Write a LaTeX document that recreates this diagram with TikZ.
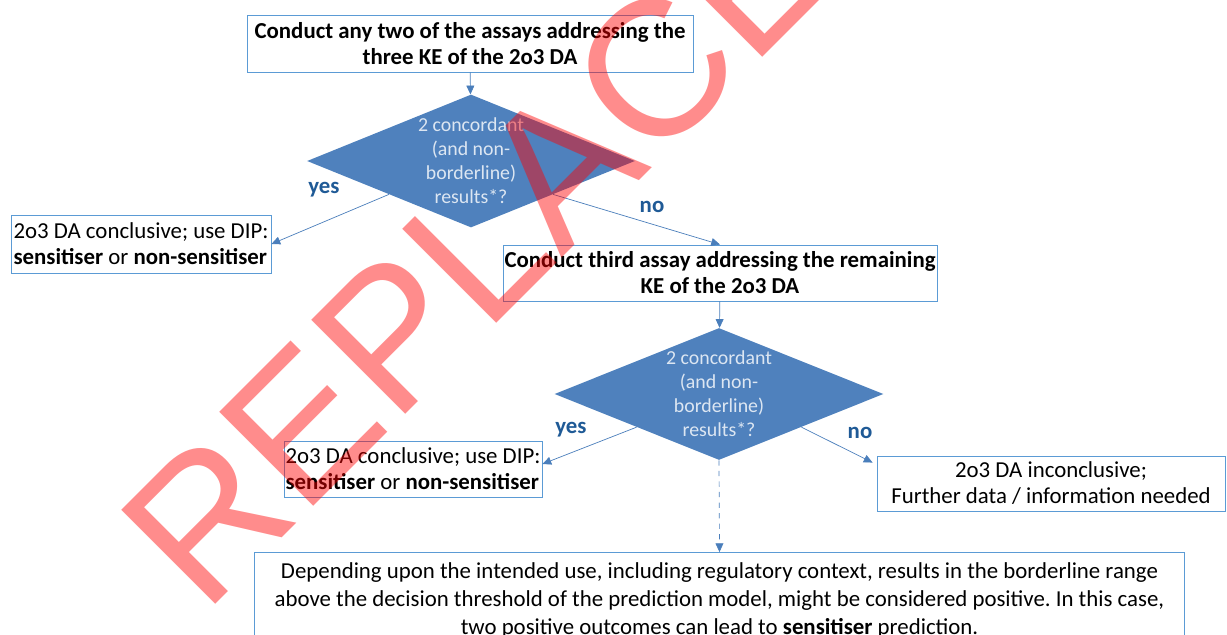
\documentclass[tikz,border=0pt]{standalone}
\usepackage{fontspec}
\setmainfont{Carlito}
\newfontfamily\markfont{Liberation Sans}
\usetikzlibrary{shapes.geometric}
\usetikzlibrary{arrows.meta}
\frenchspacing

\definecolor{boxline}{RGB}{91,155,213}
\definecolor{flowline}{RGB}{74,126,187}
\definecolor{dfill}{RGB}{79,129,189}
\definecolor{dtextc}{RGB}{220,230,242}
\definecolor{ynblue}{RGB}{31,90,150}

\tikzset{
    box/.style={draw=boxline, line width=0.5pt, inner sep=0pt, align=center,
        font=\fontsize{13}{14.8}\selectfont},
    decision/.style={diamond, fill=dfill, inner sep=0pt},
    dtext/.style={text=dtextc, align=center, inner sep=0pt,
        font=\fontsize{11.3}{13.7}\selectfont},
    yn/.style={text=ynblue, inner sep=0pt, font=\fontsize{13}{14}\selectfont\bfseries},
    flow/.style={draw=flowline, line width=0.4pt, -{Triangle[length=5pt,width=4.5pt]}}
}

\begin{document}
\begin{tikzpicture}[x=0.02cm, y=-0.02cm]

            %\draw [help lines] (0,0) grid (1227,635);
            \useasboundingbox (0,0) rectangle (1227,635);

            \path   (470,43.5) node (any) [box, minimum width=8.92cm, minimum height=1.14cm]
                        {\bfseries Conduct any two of the assays addressing the\\ \bfseries three KE of the 2o3 DA}
                    (471,161) node (qa) [decision, minimum width=6.56cm, minimum height=2.66cm] {}
                    (471,161) node (qat) [dtext] {2 concordant\\(and non-\\borderline)\\results*?}
                    (141,244) node (conca) [box, align=left, minimum width=5.2cm, minimum height=1.16cm]
                        {2o3 DA conclusive; use DIP:\\ \textbf{sensitiser} or \textbf{non-sensitiser}}
                    (720,273) node (third) [box, minimum width=8.68cm, minimum height=1.12cm]
                        {\bfseries Conduct third assay addressing the remaining\\ \bfseries KE of the 2o3 DA}
                    (719,394) node (qb) [decision, minimum width=6.58cm, minimum height=2.64cm] {}
                    (719,394) node (qbt) [dtext] {2 concordant\\(and non-\\borderline)\\results*?}
                    (413,469) node (concb) [box, align=left, minimum width=5.16cm, minimum height=1.12cm]
                        {2o3 DA conclusive; use DIP:\\ \textbf{sensitiser} or \textbf{non-sensitiser}}
                    (1051,483.5) node (inconc) [box, minimum width=6.96cm, minimum height=1.1cm]
                        {2o3 DA inconclusive;\\Further data / information needed}
                    (719.5,600) node (border) [box, minimum width=18.62cm, minimum height=1.9cm,
                        font=\fontsize{13}{15.9}\selectfont]
                        {Depending upon the intended use, including regulatory context, results in the borderline range\\
                         above the decision threshold of the prediction model, might be considered positive. In this case,\\
                         two positive outcomes can lead to \textbf{sensitiser} prediction.}
                    (324,190) node (yesa) [yn] {yes}
                    (652,207) node (noa) [yn] {no}
                    (571,430) node (yesb) [yn] {yes}
                    (860,433) node (nob) [yn] {no};

            \draw[flow] (any) -- (qa);
            \draw[flow] (qa.south west) -- (conca.east);
            \draw[flow] (qa.south east) -- (third.north);
            \draw[flow] (third) -- (qb);
            \draw[flow] (qb.south west) -- ([yshift=0.1cm]concb.east);
            \draw[flow] (qb.south east) -- ([xshift=-0.08cm,yshift=-0.14cm]inconc.north west);
            \draw[flow, dashed] (qb.south) -- (border.north);

            % watermark
            \node (mark) [rotate=45, anchor=base west, inner sep=0pt, text=red, text opacity=0.45,
                font=\fontsize{110}{110}\markfont] at (204,616) {REPLACE};

\end{tikzpicture}
\end{document}
